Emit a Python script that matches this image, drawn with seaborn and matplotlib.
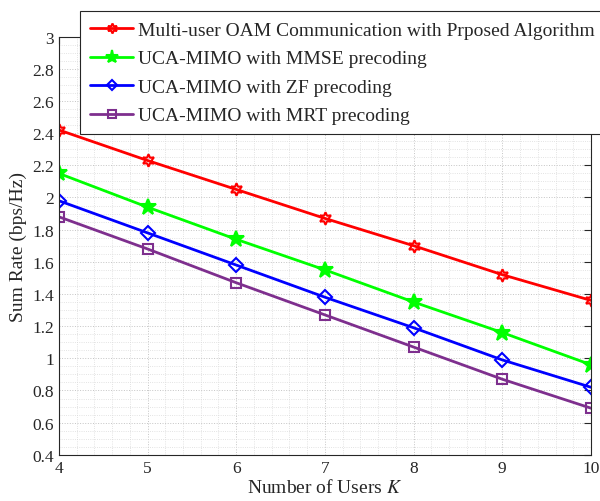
import numpy as np
import pandas as pd
import matplotlib
matplotlib.use("Agg")
import matplotlib.pyplot as plt
import seaborn as sns
from matplotlib.ticker import MultipleLocator

users = [4, 5, 6, 7, 8, 9, 10]
oam = [2.42, 2.23, 2.05, 1.87, 1.70, 1.52, 1.36]
mmse = [2.15, 1.94, 1.74, 1.55, 1.35, 1.16, 0.96]
zf = [1.98, 1.78, 1.58, 1.38, 1.19, 0.99, 0.82]
mrt = [1.88, 1.68, 1.47, 1.27, 1.07, 0.87, 0.69]
labels = ["Multi-user OAM Communication with Prposed Algorithm",
          "UCA-MIMO with MMSE precoding",
          "UCA-MIMO with ZF precoding",
          "UCA-MIMO with MRT precoding"]

sns.set_style("white")
plt.rcParams['font.family'] = ['Liberation Serif', 'DejaVu Serif']
plt.rcParams['mathtext.fontset'] = 'stix'

fig = plt.figure(figsize=(6.0, 5.02), dpi=100)
ax = fig.add_axes([0.098, 0.092, 0.887, 0.833])

series = [oam, mmse, zf, mrt]
colors = ["#FF0000", "#00FF00", "#0000FF", "#7E2F8E"]
markers = [(6, 1, 0), "*", "D", "s"]
msizes = [9, 12, 7, 7]
fills = ["none", "#00FF00", "none", "none"]

for vals, lab, c, m, ms, fc in zip(series, labels, colors, markers, msizes, fills):
    df = pd.DataFrame({"K": users, "rate": vals})
    sns.lineplot(data=df, x="K", y="rate", ax=ax, color=c, lw=2.0,
                 marker=m, markersize=ms, markerfacecolor=fc,
                 markeredgecolor=c, markeredgewidth=1.5, label=lab)

ax.set_xlim(4, 10)
ax.set_ylim(0.4, 3.0)
ax.xaxis.set_major_locator(MultipleLocator(1))
ax.xaxis.set_minor_locator(MultipleLocator(0.2))
ax.yaxis.set_minor_locator(MultipleLocator(0.05))
ax.set_yticks(np.arange(0.4, 3.01, 0.2))
ax.set_yticklabels(["0.4", "0.6", "0.8", "1", "1.2", "1.4", "1.6", "1.8", "2",
                    "2.2", "2.4", "2.6", "2.8", "3"])
ax.grid(True, which="major", ls=":", lw=0.7, color="#c4c4c4")
ax.grid(True, which="minor", ls=":", lw=0.6, color="#dadada")
ax.tick_params(axis="both", which="major", direction="in", length=5,
               top=True, right=True, labelsize=12.5, colors="#262626",
               width=0.8)
ax.tick_params(axis="both", which="minor", length=0)
for s in ax.spines.values():
    s.set_color("#262626")
    s.set_linewidth(0.8)

ax.set_xlabel("Number of Users $K$", fontsize=14, color="#262626", labelpad=2)
ax.set_ylabel("Sum Rate (bps/Hz)", fontsize=14, color="#262626", labelpad=4)

leg = ax.legend(loc="upper left", bbox_to_anchor=(0.04, 1.061),
                fontsize=14.0, frameon=True, fancybox=False, edgecolor="#262626",
                framealpha=1, borderpad=0.52, labelspacing=0.56,
                handlelength=2.2, handletextpad=0.26, borderaxespad=0,
                markerscale=0.8)
leg.get_frame().set_linewidth(0.8)

fig.savefig("out.png", dpi=100)
